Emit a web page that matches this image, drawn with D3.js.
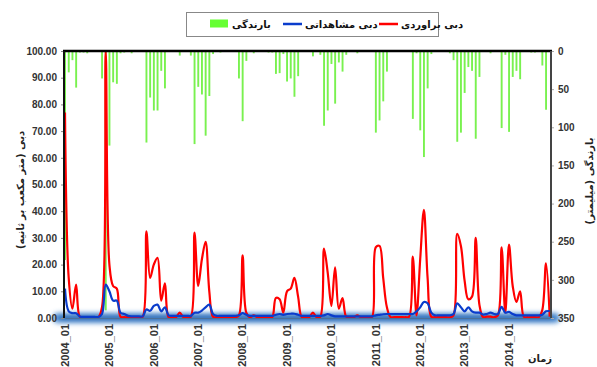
<!DOCTYPE html>
<html>
<head>
<meta charset="utf-8">
<script src="https://cdn.jsdelivr.net/npm/d3@7/dist/d3.min.js"></script>
<style>
  html, body { margin: 0; padding: 0; background: #fff; }
  svg { display: block; }
  .tick text { font-family: "Liberation Sans", Arial, sans-serif; font-weight: bold; font-size: 10px; fill: #333; }
  .fa { font-family: "DejaVu Sans", sans-serif; font-weight: bold; }
</style>
</head>
<body>
<svg id="chart" width="597" height="367"></svg>
<script>
// Monthly series, 2004_01 .. 2014_12 (132 months)
const rainfall = [
  274, 28, 12, 48, 2, 2, 3, 0, 0, 0, 36, 340,
  124, 41, 43, 3, 2, 0, 3, 0, 0, 0, 120, 61,
  78, 78, 26, 49, 0, 0, 0, 6, 0, 0, 6, 122,
  47, 57, 111, 59, 4, 0, 2, 0, 0, 0, 0, 36,
  92, 13, 0, 3, 0, 0, 0, 2, 2, 30, 29, 4,
  40, 36, 60, 33, 0, 0, 0, 7, 0, 5, 98, 78,
  17, 69, 15, 27, 5, 0, 0, 3, 0, 0, 0, 0,
  107, 91, 66, 27, 0, 0, 0, 1, 0, 0, 89, 3,
  104, 139, 49, 4, 1, 0, 0, 0, 3, 12, 119, 107,
  55, 21, 26, 115, 34, 0, 0, 3, 0, 0, 101, 5,
  106, 34, 26, 37, 0, 0, 2, 2, 0, 19, 77, 0
];
const estimatedFlow = [
  77, 15, 3.5, 12.5, 0.5, 0.3, 0.3, 0.3, 0.3, 0.3, 4, 100,
  20, 12, 11, 0.5, 0.3, 0.3, 0.3, 0.3, 0.3, 0.5, 32.5, 15,
  20, 22.5, 6.5, 13, 0.3, 0.3, 0.3, 2, 0.3, 0.3, 0.5, 32,
  12, 22, 28.5, 10, 0.5, 0.3, 0.3, 0.3, 0.3, 0.3, 0.3, 1,
  23.5, 2, 0.3, 1, 0.3, 0.3, 0.3, 0.3, 0.3, 7.5, 7, 2,
  10, 11, 15, 8, 0.3, 0.3, 0.3, 2, 0.3, 0.5, 26, 17,
  4.5, 19, 3.5, 7.5, 0.5, 0.3, 0.3, 1, 0.3, 0.3, 0.3, 0.5,
  26.5, 27, 15, 4, 0.3, 0.3, 0.3, 0.3, 0.3, 0.5, 23, 1,
  22, 40.5, 15, 0.5, 0.3, 0.3, 0.3, 0.3, 0.3, 1, 31.5, 27,
  14, 7, 8, 30, 5, 0.3, 0.5, 0.5, 0.3, 1, 26.5, 2,
  27.5, 12, 6, 10, 0.5, 0.3, 0.3, 0.3, 0.3, 3, 20.5, 0.5
];
const observedFlow = [
  11, 2.5, 1.8, 1.8, 0.6, 0.4, 0.4, 0.4, 0.4, 0.4, 1.5, 12.5,
  10, 6.5, 6.5, 2, 1.5, 0.8, 0.6, 0.6, 0.6, 0.6, 3.2, 2.7,
  4.5, 5, 2.5, 4, 1, 0.8, 0.8, 0.8, 0.8, 0.8, 0.8, 2,
  2, 2.8, 4, 5, 1.5, 0.8, 0.8, 0.8, 0.8, 0.8, 0.8, 1,
  1.8, 1.2, 0.8, 0.8, 0.8, 0.8, 0.8, 0.8, 0.8, 1.2, 1.5, 1.2,
  1.5, 1.6, 1.6, 1.2, 0.8, 0.8, 0.8, 0.8, 0.8, 0.8, 1, 1.5,
  1, 0.6, 0.6, 0.6, 0.6, 0.6, 0.6, 0.6, 0.6, 0.6, 0.6, 0.6,
  1, 1.2, 1.4, 1.5, 1.5, 1.5, 1.5, 1.5, 1.5, 1.5, 1.5, 2.5,
  4, 6, 5.5, 2, 1, 1, 1, 1, 1, 1.5, 5.5, 4,
  2.5, 4, 2.5, 2, 2, 1.3, 1.5, 2, 1.5, 1.5, 4.2, 2,
  2.3, 1.5, 1, 1, 1, 1, 1, 1, 1, 1.2, 2.5, 2.6
];
const yearLabels = ["2004_01", "2005_01", "2006_01", "2007_01", "2008_01", "2009_01",
  "2010_01", "2011_01", "2012_01", "2013_01", "2014_01"];
const flowTicks = [0, 10, 20, 30, 40, 50, 60, 70, 80, 90, 100];
const rainTicks = [0, 50, 100, 150, 200, 250, 300, 350];

const svg = d3.select("#chart");
const plotLeft = 64, plotRight = 551, plotTop = 51, plotBottom = 318;

const x = d3.scaleLinear().domain([0, rainfall.length - 1]).range([65, 549.7]);
const yFlow = d3.scaleLinear().domain([0, 100]).range([plotBottom, plotTop]);
const yRain = d3.scaleLinear().domain([0, 350]).range([plotTop, plotBottom]);

const defs = svg.append("defs");
defs.append("clipPath").attr("id", "plotClip")
  .append("rect").attr("x", plotLeft).attr("y", plotTop)
  .attr("width", plotRight - plotLeft).attr("height", plotBottom - plotTop + 2);
const glow = defs.append("filter").attr("id", "glow")
  .attr("filterUnits", "userSpaceOnUse")
  .attr("x", 40).attr("y", 295).attr("width", 530).attr("height", 46);
glow.append("feGaussianBlur").attr("stdDeviation", 2.6);

// rainfall bars hanging from the top edge
svg.append("g").selectAll("rect").data(rainfall).join("rect")
  .attr("x", (d, i) => x(i) - 0.9)
  .attr("y", plotTop)
  .attr("width", 1.9)
  .attr("height", d => yRain(d) - plotTop)
  .attr("fill", "#62ee30")
  .attr("opacity", 0.85);

// glow along the horizontal axis
const glowBand = svg.append("g").attr("filter", "url(#glow)");
glowBand.append("line")
  .attr("x1", 58).attr("x2", 555).attr("y1", plotBottom).attr("y2", plotBottom)
  .attr("stroke", "#4a8ad0").attr("stroke-width", 10).attr("stroke-linecap", "round");
glowBand.append("line")
  .attr("x1", 60).attr("x2", 553).attr("y1", plotBottom).attr("y2", plotBottom)
  .attr("stroke", "#2a66b0").attr("stroke-width", 4);

const plot = svg.append("g").attr("clip-path", "url(#plotClip)");
const line = data => d3.line()
  .x((d, i) => x(i))
  .y(d => yFlow(d))
  .curve(d3.curveCatmullRom.alpha(0.5))(data);

plot.append("path").attr("d", line(estimatedFlow))
  .attr("fill", "none").attr("stroke", "#ff0000").attr("stroke-width", 2.2);
plot.append("path").attr("d", line(observedFlow))
  .attr("fill", "none").attr("stroke", "#0a3ccc").attr("stroke-width", 2.2);

// axes
const gL = svg.append("g").attr("transform", `translate(${plotLeft},0)`)
  .call(d3.axisLeft(yFlow).tickValues(flowTicks).tickFormat(d3.format(".2f")).tickSize(3).tickPadding(4));
gL.select(".domain").remove();
gL.selectAll(".tick line").attr("stroke", "#888");

const gR = svg.append("g").attr("transform", `translate(${plotRight},0)`)
  .call(d3.axisRight(yRain).tickValues(rainTicks).tickSize(3).tickPadding(4));
gR.select(".domain").remove();
gR.selectAll(".tick line").attr("stroke", "#aaa");

const gB = svg.append("g").attr("transform", `translate(0,${plotBottom})`)
  .call(d3.axisBottom(x).tickValues(yearLabels.map((d, k) => k * 12))
    .tickFormat((d, k) => yearLabels[k]).tickSize(0));
gB.select(".domain").attr("stroke", "#4a6f98").attr("stroke-width", 1);
gB.selectAll(".tick text")
  .attr("transform", "translate(-0.5,6) rotate(-90)")
  .attr("text-anchor", "end")
  .attr("x", 0).attr("y", 0).attr("dy", "0.35em")
  .style("font-size", "11px");

// frame
svg.append("line").attr("x1", plotLeft - 1).attr("x2", plotRight + 1).attr("y1", plotTop).attr("y2", plotTop)
  .attr("stroke", "#000").attr("stroke-width", 2.4);
svg.append("line").attr("x1", plotLeft).attr("x2", plotLeft).attr("y1", plotTop).attr("y2", plotBottom)
  .attr("stroke", "#111").attr("stroke-width", 2);
svg.append("line").attr("x1", plotRight).attr("x2", plotRight).attr("y1", plotTop).attr("y2", plotBottom)
  .attr("stroke", "#444").attr("stroke-width", 2);

// axis titles
svg.append("text").attr("class", "fa")
  .attr("transform", "translate(20,190) rotate(-90)")
  .attr("text-anchor", "middle").attr("dy", "0.35em")
  .attr("direction", "rtl")
  .style("font-size", "10px").attr("fill", "#222")
  .text("دبی (متر مکعب بر ثانیه)");
svg.append("text").attr("class", "fa")
  .attr("transform", "translate(589,181) rotate(-90)")
  .attr("text-anchor", "middle").attr("dy", "0.35em")
  .attr("direction", "rtl")
  .style("font-size", "10px").attr("fill", "#222")
  .text("بارندگی (میلیمتر)");
svg.append("text").attr("class", "fa")
  .attr("x", 540).attr("y", 362).attr("text-anchor", "middle")
  .style("font-size", "10px").attr("fill", "#222")
  .text("زمان");

// legend
const lg = svg.append("g");
lg.append("rect").attr("x", 186.5).attr("y", 12.5).attr("width", 252).attr("height", 24)
  .attr("fill", "#fff").attr("stroke", "#888");
const legendItems = [
  { label: "بارندگی", color: "#66ff33", kind: "bar", x: 210 },
  { label: "دبی مشاهداتی", color: "#0a3ccc", kind: "line", x: 283 },
  { label: "دبی براوردی", color: "#ff0000", kind: "line", x: 379 }
];
legendItems.forEach(it => {
  if (it.kind === "bar") {
    lg.append("rect").attr("x", it.x).attr("y", 19.5).attr("width", 18).attr("height", 8).attr("fill", it.color);
  } else {
    lg.append("line").attr("x1", it.x).attr("x2", it.x + 19).attr("y1", 24).attr("y2", 24)
      .attr("stroke", it.color).attr("stroke-width", 2.5);
  }
  lg.append("text").attr("class", "fa")
    .attr("x", it.x + 22).attr("y", 24).attr("dy", "0.35em")
    .attr("text-anchor", "start")
    .style("font-size", "10px").attr("fill", "#111")
    .text(it.label);
});
</script>
</body>
</html>
